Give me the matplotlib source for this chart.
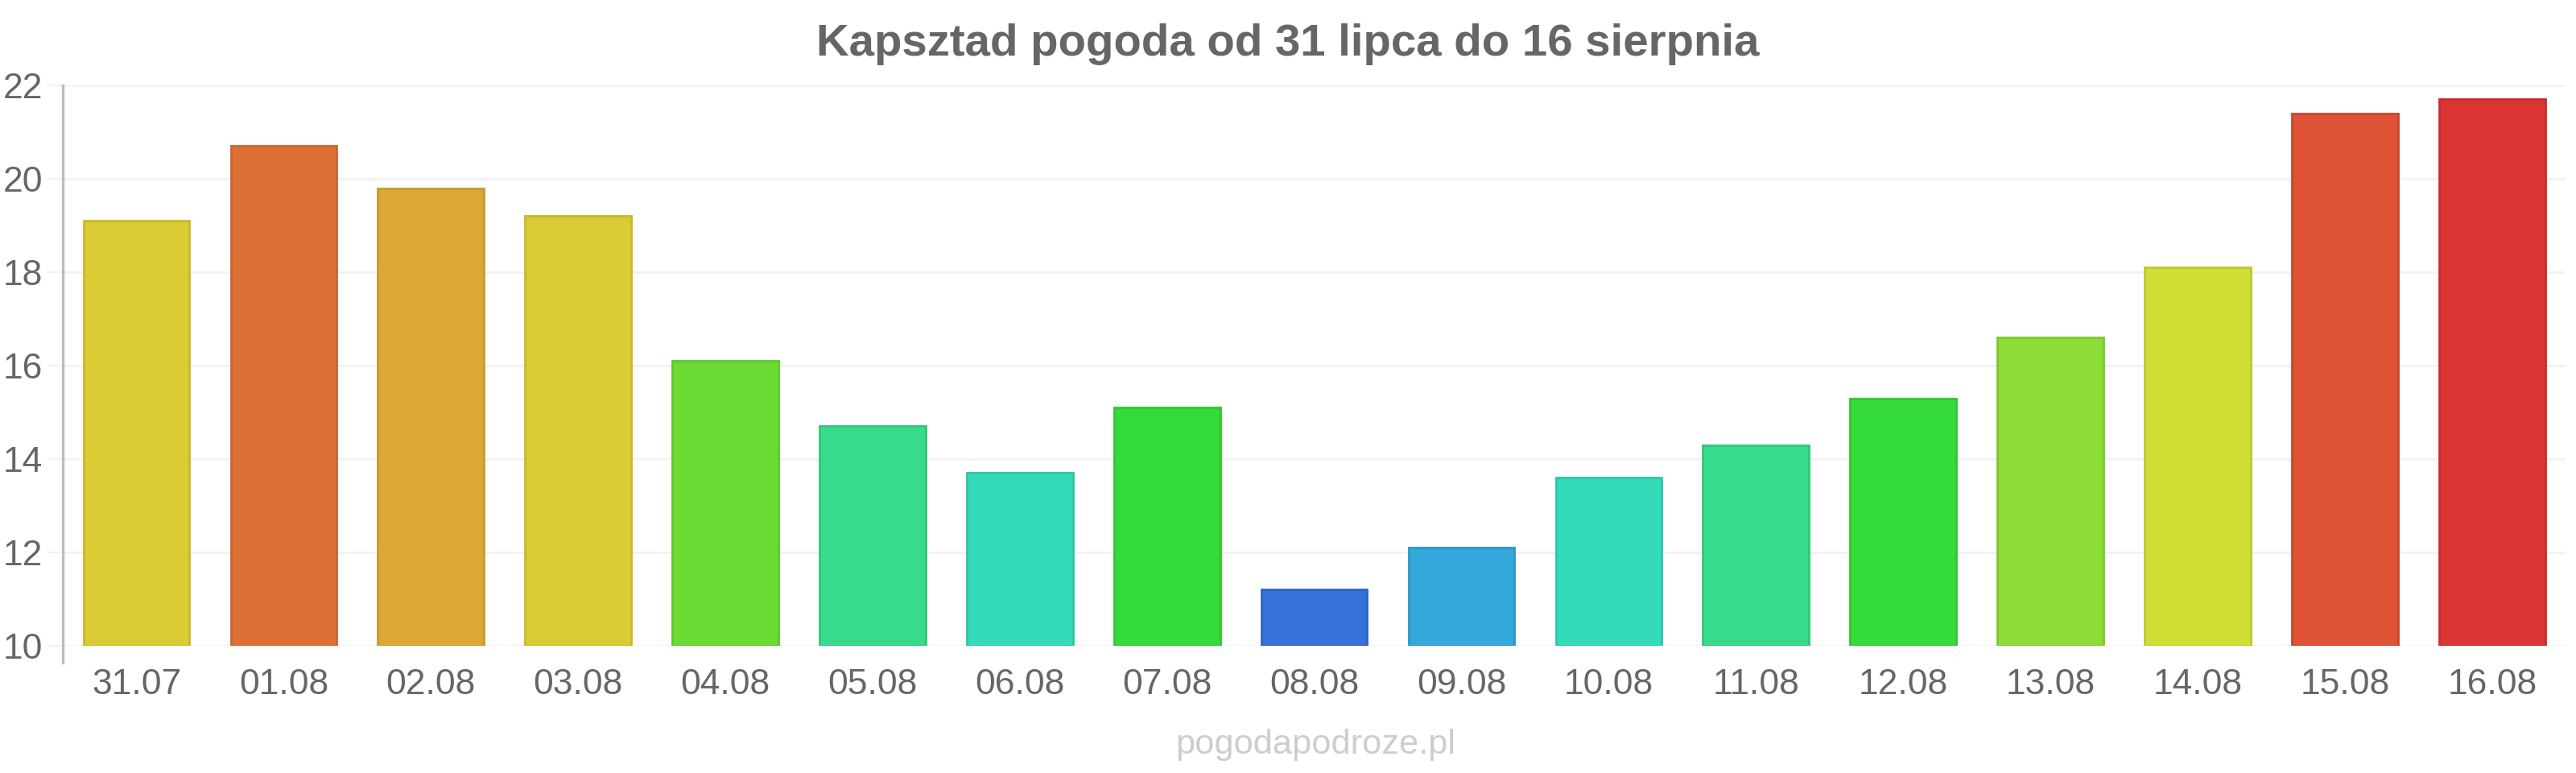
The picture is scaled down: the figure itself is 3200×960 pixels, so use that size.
import matplotlib.pyplot as plt

plt.rcParams['font.family'] = ['Liberation Sans', 'DejaVu Sans']

days = ['31.07', '01.08', '02.08', '03.08', '04.08', '05.08', '06.08', '07.08', '08.08',
        '09.08', '10.08', '11.08', '12.08', '13.08', '14.08', '15.08', '16.08']
temps = [19.1, 20.7, 19.8, 19.2, 16.1, 14.7, 13.7, 15.1, 11.2,
         12.1, 13.6, 14.3, 15.3, 16.6, 18.1, 21.4, 21.7]
colors = ['#dbcb34', '#de7036', '#dca834', '#dbcb34', '#6cdc34', '#38db89', '#34dbb8', '#35db38', '#3573db',
          '#35a8db', '#34dbb8', '#38db89', '#35db38', '#8bdc37', '#cfdd35', '#de5236', '#db3535']
edges = ['#c9b92a', '#cc6330', '#c99a2e', '#c9b92a', '#5cc82c', '#30c67a', '#2cc6a5', '#2dc630', '#2c63c6',
         '#2c96c6', '#2cc6a5', '#30c67a', '#2dc630', '#7cc82f', '#bcc92d', '#c9462f', '#c72d2d']
yticks = [10, 12, 14, 16, 18, 20, 22]

fig = plt.figure(figsize=(16, 4.8), dpi=200)
ax = fig.add_axes([0.0244, 0.1646, 0.9716, 0.725])

x = range(len(days))
ax.bar(x, [t - 10 for t in temps], bottom=10, width=0.72, color=colors,
       edgecolor=edges, linewidth=1.0, zorder=3)

ax.set_xlim(-0.5, len(days) - 0.5)
ax.set_ylim(10, 22)
ax.set_yticks(yticks)
ax.set_xticks(list(x))
ax.set_xticklabels(days)

ax.grid(axis='y', color='#f2f2f2', linewidth=1.0, zorder=0)
for s in ['top', 'right', 'bottom']:
    ax.spines[s].set_visible(False)
ax.spines['left'].set_visible(False)
ax.axvline(-0.5, ymin=-0.03, ymax=1, color='#bdbdbd', linewidth=1.2, clip_on=False, zorder=4)

ax.tick_params(axis='y', length=7, color='#f2f2f2', labelcolor='#666666', labelsize=16, pad=2)
ax.tick_params(axis='x', length=0, labelcolor='#666666', labelsize=16, pad=10)

fig.text(0.5, 0.943, 'Kapsztad pogoda od 31 lipca do 16 sierpnia', ha='center', va='center',
         fontsize=20.3, fontweight='bold', color='#666666')
fig.text(0.5106, 0.036, 'pogodapodroze.pl', ha='center', va='center',
         fontsize=15.6, color='#cdcdd1')

fig.savefig('out.png', dpi=200, facecolor='white')
